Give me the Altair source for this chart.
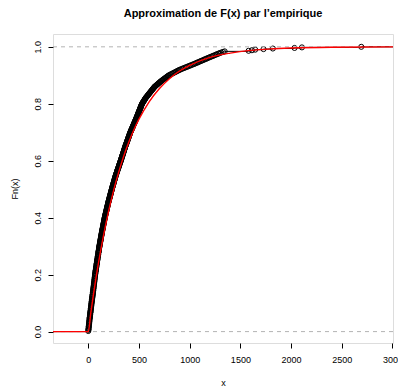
import altair as alt
import pandas as pd

# ---- data ----
sample_body = [
    0, 1, 1, 2, 3, 3, 4, 4, 5, 6, 6, 7, 7, 8, 9, 9, 10, 10, 11, 12, 12, 13, 13, 14, 15,
    16, 16, 17, 18, 18, 19, 20, 20, 21, 22, 23, 23, 24, 25, 25, 26, 27, 27, 28, 29, 29, 30, 31, 31, 32,
    33, 33, 34, 35, 36, 36, 37, 38, 39, 39, 40, 41, 42, 42, 43, 44, 45, 45, 46, 47, 48, 48, 49, 50, 50,
    51, 52, 52, 53, 54, 54, 55, 56, 56, 57, 58, 59, 59, 60, 61, 61, 62, 63, 63, 64, 65, 65, 66, 67, 67,
    68, 69, 70, 71, 71, 72, 73, 74, 75, 76, 76, 77, 78, 79, 80, 81, 81, 82, 83, 84, 85, 86, 86, 87, 88,
    89, 90, 91, 92, 92, 93, 94, 95, 96, 97, 98, 99, 99, 100, 101, 102, 103, 104, 105, 106, 106, 107, 108, 109, 110,
    111, 112, 113, 114, 115, 116, 117, 118, 119, 120, 121, 122, 123, 124, 125, 126, 127, 128, 129, 130, 131, 132, 133, 134, 135,
    136, 137, 138, 139, 140, 142, 143, 144, 145, 146, 147, 148, 149, 150, 151, 153, 154, 155, 156, 157, 158, 159, 160, 161, 162,
    163, 165, 166, 167, 169, 170, 171, 173, 174, 175, 177, 178, 179, 181, 182, 183, 185, 186, 187, 189, 190, 191, 193, 194, 195,
    196, 198, 199, 201, 202, 204, 205, 207, 208, 210, 211, 213, 214, 216, 217, 219, 220, 222, 223, 225, 226, 228, 229, 231, 232,
    234, 235, 237, 238, 240, 242, 243, 245, 246, 248, 250, 251, 253, 254, 256, 258, 259, 261, 262, 264, 266, 267, 269, 270, 272,
    274, 276, 278, 280, 282, 284, 285, 287, 289, 291, 293, 295, 297, 299, 301, 303, 305, 306, 308, 310, 312, 314, 316, 318, 320,
    322, 324, 325, 327, 329, 331, 333, 334, 336, 338, 340, 342, 343, 345, 347, 349, 351, 352, 354, 356, 358, 360, 361, 363, 365,
    367, 369, 371, 373, 375, 377, 379, 381, 383, 385, 387, 389, 391, 393, 395, 397, 399, 401, 403, 405, 407, 409, 411, 413, 415,
    417, 420, 422, 425, 427, 429, 432, 434, 437, 439, 441, 444, 446, 449, 451, 453, 456, 458, 461, 463, 465, 468, 470, 473, 475,
    477, 479, 482, 484, 486, 488, 490, 493, 495, 497, 499, 501, 504, 506, 508, 510, 512, 515, 517, 519, 521, 523, 526, 528, 530,
    534, 537, 541, 544, 548, 551, 555, 558, 562, 565,
    569, 574, 578, 583, 587, 592, 596, 601, 605, 610,
    614, 619, 623, 628, 632, 637, 641, 646, 650, 655,
    661, 668, 674, 681, 687, 694, 700, 707, 713, 720,
    727, 735, 742, 750, 757, 765, 772, 780, 787, 795,
    806, 817, 828, 839, 850, 861, 872, 883, 894, 905,
    919, 933, 947, 961, 975, 989, 1003, 1017, 1031, 1045,
    1058, 1071, 1084, 1097, 1110, 1123, 1136, 1149, 1162, 1175,
    1188, 1202, 1215, 1229, 1242, 1256, 1269, 1283, 1296, 1310,
    1328, 1345,
]
sample_tail = [1581, 1614, 1646, 1728, 1820, 2034, 2107, 2692]

# theoretical CDF (red curve)
red_x = [-348, 0, 25, 50, 75, 100, 150, 200, 250, 300, 350, 400, 450, 500, 600, 700,
         800, 900, 1000, 1200, 1400, 1600, 1800, 2000, 2400, 3005]
red_F = [0, 0, 0.066, 0.128, 0.186, 0.240, 0.337, 0.422, 0.496, 0.560, 0.617, 0.666,
         0.709, 0.746, 0.807, 0.853, 0.888, 0.915, 0.935, 0.963, 0.978, 0.9875, 0.9928,
         0.9958, 0.9986, 0.9997]

x_ticks = [0, 500, 1000, 1500, 2000, 2500, 3000]
y_ticks = [0, 0.2, 0.4, 0.6, 0.8, 1.0]
h_lines = [0, 1]

x_domain = [-348, 3005]
y_domain = [-0.04, 1.045]

# ---- build tables ----
sample = sorted(sample_body + sample_tail)
n = len(sample)
s = pd.Series(sample)
knots = pd.DataFrame({"x": s, "Fn": s.rank(method="max") / n}).drop_duplicates("x").reset_index(drop=True)

kx = knots["x"].tolist()
kf = knots["Fn"].tolist()
steps = pd.DataFrame({
    "x": [x_domain[0]] + kx,
    "x2": kx + [x_domain[1]],
    "Fn": [0.0] + kf,
})
red_df = pd.DataFrame({"x": red_x, "Fn": red_F})
h_df = pd.DataFrame({"Fn": h_lines})

FONT = "Liberation Sans"
xscale = alt.Scale(domain=x_domain, nice=False, zero=False)
yscale = alt.Scale(domain=y_domain, nice=False, zero=False)

x_axis = alt.Axis(values=x_ticks, format="d", title="x", grid=False, domain=False, tickSize=5,
                  tickColor="black", tickWidth=1, labelFont=FONT, labelFontSize=9,
                  labelColor="black", labelPadding=7, labelFlush=False, labelOverlap=False,
                  titleFont=FONT, titleFontSize=9, titleFontWeight="normal",
                  titleColor="black", titlePadding=14)
y_axis = alt.Axis(values=y_ticks, format=".1f", title="Fn(x)", grid=False, domain=False,
                  tickSize=5, tickColor="black", tickWidth=1, labelFont=FONT,
                  labelFontSize=9, labelColor="black", labelAngle=270, labelAlign="center",
                  labelBaseline="alphabetic", labelPadding=8, labelFlush=False,
                  labelOverlap=False, titleFont=FONT, titleFontSize=9,
                  titleFontWeight="normal", titleColor="black", titlePadding=14)

X = alt.X("x:Q", scale=xscale, axis=x_axis)
Y = alt.Y("Fn:Q", scale=yscale, axis=y_axis)

step_layer = alt.Chart(steps).mark_rule(color="black", strokeWidth=1, clip=True).encode(
    x=X, x2="x2:Q", y=Y)
point_layer = alt.Chart(knots).mark_point(shape="circle", filled=False, color="black",
                                          size=26, strokeWidth=1, opacity=1).encode(x=X, y=Y)
h_layer = alt.Chart(h_df).mark_rule(color="#B3B3B3", strokeDash=[4, 4], strokeWidth=1).encode(y=Y)
red_layer = alt.Chart(red_df).mark_line(color="#FF0000", strokeWidth=1.4,
                                        interpolate="monotone", clip=True).encode(x=X, y=Y)

chart = alt.layer(step_layer, point_layer, h_layer, red_layer).properties(
    width=340, height=309,
    padding={"left": 53, "top": 34, "right": 5, "bottom": 44},
    autosize=alt.AutoSizeParams(type="none"),
    title=alt.TitleParams("Approximation de F(x) par l’empirique", font=FONT,
                          fontSize=11, fontWeight="bold", color="black",
                          anchor="middle", frame="group", baseline="alphabetic",
                          offset=6),
).configure_view(stroke="black", strokeWidth=1).configure(background="white")

chart.save("out.html", embed_options={"renderer": "svg", "actions": False})
